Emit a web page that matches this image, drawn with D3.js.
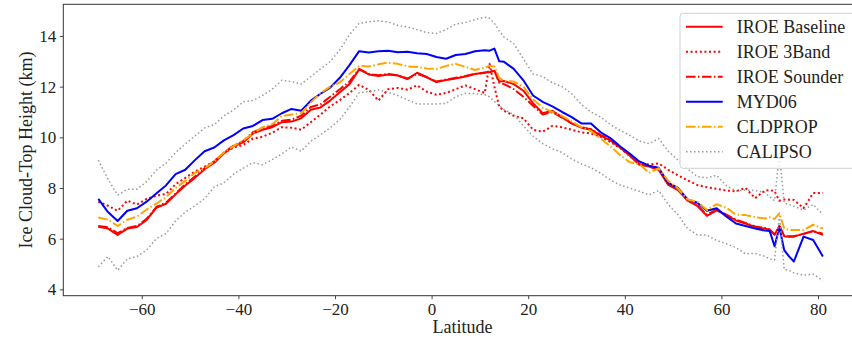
<!DOCTYPE html>
<html>
<head>
<meta charset="utf-8">
<script src="https://cdn.jsdelivr.net/npm/d3@7"></script>
<style>
  body { margin: 0; background: #fff; }
  svg { display: block; font-family: "Liberation Serif", "Times New Roman", serif; }
</style>
</head>
<body>
<div class="chart"></div>
<script>
// zonal mean ice cloud-top height (km) by latitude
const latitude = [-69, -67, -65, -63, -61, -59, -57, -55, -53, -51, -49, -47, -45, -43, -41, -39, -37, -35, -33, -31,
  -29, -27, -25, -23, -21, -19, -17, -15, -13, -11, -9, -7, -5, -3, -1, 1, 3, 5, 7, 9,
  11, 12, 13, 14, 15, 17, 19, 21, 23, 25, 27, 29, 31, 33, 35, 37, 39, 41, 43, 45,
  47, 49, 51, 53, 55, 57, 59, 61, 63, 65, 67, 69, 70, 71, 72, 73, 74, 75, 77, 79, 81];

const iroeBaseline = [6.47, 6.4, 6.15, 6.4, 6.46, 6.74, 7.22, 7.38, 7.75, 8.1, 8.4, 8.74, 9.0, 9.36, 9.65, 9.8, 10.15, 10.3, 10.4, 10.6,
  10.62, 10.75, 11.09, 11.18, 11.45, 11.78, 12.1, 12.68, 12.48, 12.42, 12.48, 12.44, 12.3, 12.55, 12.37, 12.18, 12.26, 12.32, 12.4, 12.5,
  12.56, 12.57, 12.63, 12.2, 12.22, 12.1, 11.84, 11.35, 10.95, 11.05, 10.8, 10.55, 10.38, 10.3, 10.07, 9.88, 9.6, 9.28, 8.92, 8.85,
  8.72, 8.12, 7.92, 7.5, 7.3, 6.9, 7.12, 6.93, 6.72, 6.6, 6.45, 6.4, 6.34, 6.15, 6.5, 6.1, 6.08, 6.08, 6.2, 6.3, 6.15];

const iroe3Band = [7.46, 7.3, 7.1, 7.5, 7.35, 7.57, 7.7, 7.76, 8.15, 8.4, 8.65, 8.84, 9.05, 9.38, 9.6, 9.7, 9.95, 10.02, 10.18, 10.4,
  10.38, 10.3, 10.6, 10.9, 11.22, 11.47, 11.75, 12.07, 11.87, 11.45, 11.9, 11.95, 11.88, 12.05, 11.8, 11.68, 11.75, 11.9, 12.05, 11.9,
  11.75, 12.9, 12.0, 11.2, 11.05, 10.85, 10.75, 10.3, 10.22, 10.45, 10.4, 10.3, 10.2, 10.15, 10.02, 9.82, 9.58, 9.26, 8.97, 8.93,
  8.97, 8.72, 8.5, 8.3, 8.12, 8.03, 7.97, 7.9, 7.87, 8.0, 7.6, 7.9, 7.92, 7.87, 7.5, 7.55, 7.54, 7.53, 7.2, 7.8, 7.8];

const iroeSounder = [6.5, 6.45, 6.22, 6.42, 6.5, 6.78, 7.25, 7.42, 7.78, 8.15, 8.45, 8.78, 9.05, 9.4, 9.68, 9.85, 10.2, 10.35, 10.45, 10.65,
  10.7, 10.85, 11.2, 11.3, 11.6, 11.9, 12.2, 12.7, 12.5, 12.45, 12.5, 12.45, 12.32, 12.5, 12.38, 12.2, 12.28, 12.35, 12.42, 12.5,
  12.55, 12.6, 12.65, 12.15, 12.1, 11.9, 11.6, 11.25, 10.9, 11.0, 10.78, 10.55, 10.4, 10.32, 10.1, 9.9, 9.62, 9.3, 8.95, 8.85,
  8.75, 8.15, 7.95, 7.52, 7.32, 6.95, 7.15, 6.95, 6.75, 6.62, 6.48, 6.42, 6.36, 6.18, 6.5, 6.12, 6.1, 6.1, 6.18, 6.3, 6.2];

const myd06 = [7.57, 7.05, 6.7, 7.1, 7.2, 7.46, 7.78, 8.1, 8.55, 8.72, 9.1, 9.45, 9.6, 9.88, 10.09, 10.35, 10.45, 10.68, 10.73, 10.95,
  11.12, 11.05, 11.45, 11.72, 11.96, 12.35, 12.85, 13.4, 13.35, 13.4, 13.42, 13.36, 13.38, 13.32, 13.29, 13.17, 13.1, 13.25, 13.29, 13.4,
  13.44, 13.42, 13.5, 13.0, 12.98, 12.7, 12.25, 11.65, 11.4, 11.22, 11.0, 10.8, 10.55, 10.55, 10.2, 9.97, 9.65, 9.36, 9.05, 8.88,
  8.8, 8.2, 8.0, 7.55, 7.42, 7.1, 7.2, 6.88, 6.6, 6.5, 6.4, 6.32, 6.3, 5.7, 6.45, 5.55, 5.3, 5.1, 6.08, 5.95, 5.3];

const cldprop = [6.84, 6.75, 6.5, 6.75, 6.87, 7.15, 7.38, 7.64, 8.0, 8.28, 8.6, 8.78, 9.05, 9.4, 9.65, 9.88, 10.15, 10.4, 10.52, 10.84,
  10.9, 10.95, 11.38, 11.75, 12.0, 12.17, 12.5, 12.82, 12.8, 12.88, 12.95, 12.9, 12.8, 12.78, 12.72, 12.7, 12.82, 12.9, 12.78, 12.66,
  12.75, 12.82, 12.8, 12.35, 12.22, 12.2, 12.0, 11.5, 11.17, 11.0, 10.85, 10.62, 10.4, 10.25, 9.95, 9.65, 9.3, 9.02, 8.95, 8.6,
  8.78, 8.28, 7.98, 7.55, 7.46, 7.13, 7.36, 7.22, 6.95, 6.93, 6.85, 6.8, 6.85, 6.78, 7.0, 6.4, 6.34, 6.34, 6.34, 6.55, 6.4];

// CALIPSO is drawn as an upper and a lower envelope
const calipsoUpper = [9.1, 8.35, 7.72, 7.95, 7.95, 8.25, 8.7, 8.98, 9.4, 9.74, 10.05, 10.37, 10.5, 10.85, 11.08, 11.4, 11.45, 11.65, 11.9, 12.25,
  12.2, 12.1, 12.4, 12.7, 12.99, 13.45, 14.05, 14.5, 14.56, 14.6, 14.55, 14.42, 14.35, 14.25, 14.13, 14.1, 14.25, 14.47, 14.53, 14.65,
  14.74, 14.7, 14.5, 14.2, 13.95, 13.7, 13.1, 12.5, 12.4, 12.15, 12.0, 11.72, 11.3, 11.0, 10.8, 10.5, 10.28, 10.08, 9.85, 9.75,
  9.95, 9.45, 9.1, 8.75, 8.45, 8.4, 8.5, 8.1, 7.88, 7.92, 7.9, 7.82, 7.65, 7.5, 9.35, 7.4, 7.35, 7.28, 7.13, 7.35, 6.95];

const calipsoLower = [4.89, 5.3, 4.75, 5.2, 5.3, 5.55, 6.0, 6.2, 6.7, 7.05, 7.3, 7.58, 8.05, 8.2, 8.55, 8.78, 9.0, 8.92, 9.12, 9.35,
  9.62, 9.45, 9.85, 10.1, 10.38, 10.7, 11.2, 11.76, 11.8, 11.87, 11.78, 11.65, 11.48, 11.32, 11.32, 11.32, 11.34, 11.6, 11.74, 11.72,
  11.68, 11.6, 11.42, 11.25, 11.1, 10.9, 10.45, 10.05, 9.75, 9.55, 9.4, 9.15, 8.95, 8.8, 8.58, 8.32, 8.12, 8.0, 7.87, 7.73,
  7.9, 7.35, 6.95, 6.4, 6.15, 6.14, 5.93, 5.8, 5.65, 5.4, 5.42, 5.3, 5.2, 5.16, 6.9, 4.78, 4.75, 4.65, 4.56, 4.6, 4.35];

const xTicks = [-60, -40, -20, 0, 20, 40, 60, 80];
const yTicks = [4, 6, 8, 10, 12, 14];

const width = 852, height = 338;
// plot box; the right spine falls just outside the picture
const plot = { left: 63.3, right: 861.5, top: 4.3, bottom: 295.7 };

const series = [
  { name: 'IROE Baseline', values: iroeBaseline, color: '#ff0000', dash: null, w: 2 },
  { name: 'IROE 3Band', values: iroe3Band, color: '#ff0000', dash: '2,2.6', w: 2 },
  { name: 'IROE Sounder', values: iroeSounder, color: '#ff0000', dash: '9.6,2.4,1.5,2.4', w: 2 },
  { name: 'MYD06', values: myd06, color: '#0000ff', dash: null, w: 2 },
  { name: 'CLDPROP', values: cldprop, color: '#ffa500', dash: '9.6,2.4,1.5,2.4', w: 2 },
  { name: 'CALIPSO', values: calipsoUpper, color: '#999999', dash: '1.5,2.5', w: 1.5 },
  { name: null, values: calipsoLower, color: '#999999', dash: '1.5,2.5', w: 1.5 }
];

const svg = d3.select('.chart')
  .append('svg')
  .attr('width', width)
  .attr('height', height);

const x = d3.scaleLinear().domain([-76.25, 89]).range([plot.left, plot.right]);
const y = d3.scaleLinear().domain([3.75, 15.25]).range([plot.bottom, plot.top]);

// axes
const xAxis = svg.append('g')
  .attr('transform', `translate(0,${plot.bottom})`)
  .call(d3.axisBottom(x).tickValues(xTicks).tickSize(3.5).tickPadding(3.5).tickSizeOuter(0));
const yAxis = svg.append('g')
  .attr('transform', `translate(${plot.left},0)`)
  .call(d3.axisLeft(y).tickValues(yTicks).tickSize(3.5).tickPadding(3.5).tickSizeOuter(0));

[xAxis, yAxis].forEach(a => {
  a.select('.domain').remove();
  a.selectAll('line').attr('stroke', '#333').attr('stroke-width', 0.9);
  a.selectAll('text')
    .attr('fill', '#222')
    .style('font-size', '17px')
    .style('font-family', '"Liberation Serif", "Times New Roman", serif');
});

// frame
svg.append('rect')
  .attr('x', plot.left)
  .attr('y', plot.top)
  .attr('width', plot.right - plot.left)
  .attr('height', plot.bottom - plot.top)
  .attr('fill', 'none')
  .attr('stroke', '#333')
  .attr('stroke-width', 1);

const line = d3.line()
  .x((d, i) => x(latitude[i]))
  .y(d => y(d));

svg.append('g').selectAll('path')
  .data(series)
  .enter()
  .append('path')
  .attr('d', d => line(d.values))
  .attr('fill', 'none')
  .attr('stroke', d => d.color)
  .attr('stroke-width', d => d.w)
  .attr('stroke-dasharray', d => d.dash)
  .attr('stroke-linejoin', 'round');

// axis titles
svg.append('text')
  .text('Latitude')
  .attr('x', (plot.left + plot.right) / 2)
  .attr('y', 333)
  .attr('text-anchor', 'middle')
  .style('font-size', '18px')
  .attr('fill', '#222');

svg.append('text')
  .text('Ice Cloud-Top Height (km)')
  .attr('transform', `translate(31.5,${(plot.top + plot.bottom) / 2}) rotate(-90)`)
  .attr('text-anchor', 'middle')
  .style('font-size', '18px')
  .attr('fill', '#222');

// legend
const legendItems = series.filter(s => s.name);
const legend = svg.append('g');
legend.append('rect')
  .attr('x', 680)
  .attr('y', 13.3)
  .attr('width', 200)
  .attr('height', 155)
  .attr('rx', 3)
  .attr('fill', 'rgba(255,255,255,0.8)')
  .attr('stroke', '#d0d0d0')
  .attr('stroke-width', 1);

const rows = legend.selectAll('g.row')
  .data(legendItems)
  .enter()
  .append('g')
  .attr('class', 'row')
  .attr('transform', (d, i) => `translate(0,${26.7 + i * 25})`);

rows.append('line')
  .attr('x1', 686)
  .attr('x2', 722.7)
  .attr('stroke', d => d.color)
  .attr('stroke-width', d => d.w)
  .attr('stroke-dasharray', d => d.dash);

rows.append('text')
  .text(d => d.name)
  .attr('x', 736.7)
  .attr('dy', '0.35em')
  .style('font-size', '18px')
  .attr('fill', '#222');
</script>
</body>
</html>
